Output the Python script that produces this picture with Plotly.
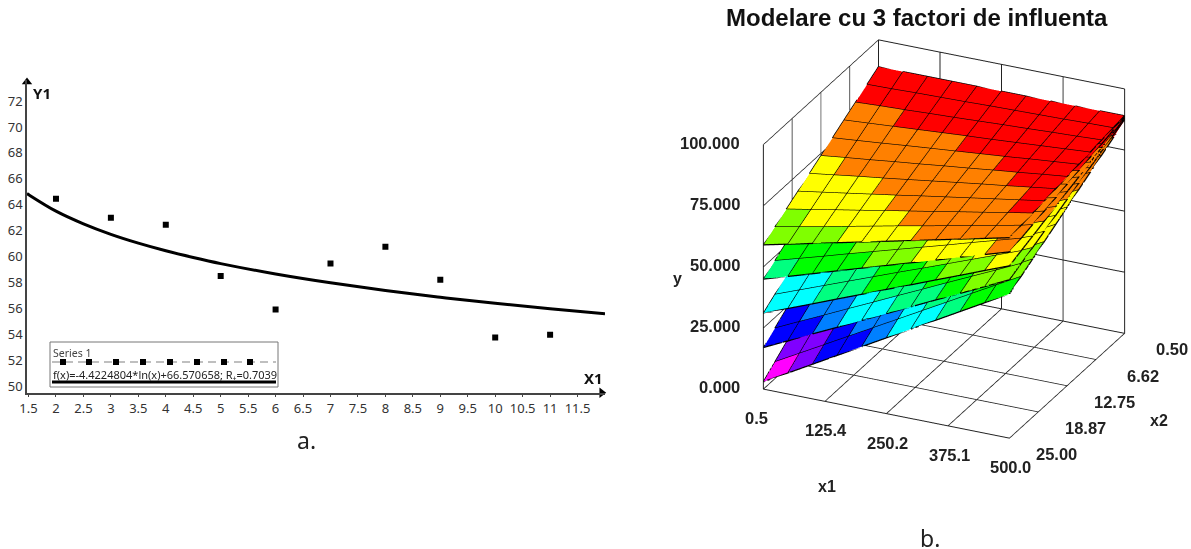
import plotly.graph_objects as go

# ---------- panel a data ----------
pts_x = [2, 3, 4, 5, 6, 7, 8, 9, 10, 11]
pts_y = [64.45, 63.0, 62.45, 58.5, 55.9, 59.45, 60.75, 58.2, 53.75, 53.95]
fit_x = [1.472, 1.5, 2, 2.5, 3, 3.5, 4, 4.5, 5, 6, 7, 8, 9, 10, 11, 12]
fit_y = [64.86, 64.78, 63.50, 62.52, 61.71, 61.03, 60.44, 59.92, 59.45, 58.65, 57.97, 57.37, 56.85, 56.39, 55.97, 55.58]
a_xticks = [1.5, 2, 2.5, 3, 3.5, 4, 4.5, 5, 5.5, 6, 6.5, 7, 7.5, 8, 8.5, 9, 9.5, 10, 10.5, 11, 11.5]
a_xlabels = ["1.5", "2", "2.5", "3", "3.5", "4", "4.5", "5", "5.5", "6", "6.5", "7", "7.5", "8", "8.5", "9", "9.5", "10", "10.5", "11", "11.5"]
a_yticks = [50, 52, 54, 56, 58, 60, 62, 64, 66, 68, 70, 72]
legend_title = "Series 1"
legend_fit = "f(x)=-4.4224804*ln(x)+66.570658; R₊=0.7039"

# ---------- panel b data ----------
x1_ticks = [0.5, 125.4, 250.2, 375.1, 500.0]
x1_labels = ["0.5", "125.4", "250.2", "375.1", "500.0"]
x2_ticks = [0.50, 6.62, 12.75, 18.87, 25.00]
x2_labels = ["0.50", "6.62", "12.75", "18.87", "25.00"]
y_ticks = [0, 25, 50, 75, 100]
y_labels = ["0.000", "25.000", "50.000", "75.000", "100.000"]
x1_grid = [0.5, 50.45, 100.4, 150.35, 200.3, 250.25, 300.2, 350.15, 400.1, 450.05, 500.0]
x2_grid = [25.0, 22.55, 20.1, 17.65, 15.2, 12.75, 10.3, 7.85, 5.4, 2.95, 0.5]
layer1 = [
    [3, 8.6, 14.2, 19.8, 25.4, 31, 36.6, 42.2, 47.8, 53.4, 59],
    [6.8, 12.3, 17.8, 23.3, 28.8, 34.3, 39.8, 45.3, 50.8, 56.3, 61.8],
    [10.6, 16, 21.4, 26.8, 32.2, 37.6, 43, 48.4, 53.8, 59.2, 64.6],
    [14.4, 19.7, 25, 30.3, 35.6, 40.9, 46.2, 51.5, 56.8, 62.1, 67.4],
    [18.2, 23.4, 28.6, 33.8, 39, 44.2, 49.4, 54.6, 59.8, 65, 70.2],
    [22, 27.1, 32.2, 37.3, 42.4, 47.5, 52.6, 57.7, 62.8, 67.9, 73],
    [25.8, 30.8, 35.8, 40.8, 45.8, 50.8, 55.8, 60.8, 65.8, 70.8, 75.8],
    [29.6, 34.5, 39.4, 44.3, 49.2, 54.1, 59, 63.9, 68.8, 73.7, 78.6],
    [33.4, 38.2, 43, 47.8, 52.6, 57.4, 62.2, 67, 71.8, 76.6, 81.4],
    [37.2, 41.9, 46.6, 51.3, 56, 60.7, 65.4, 70.1, 74.8, 79.5, 84.2],
    [41, 45.6, 50.2, 54.8, 59.4, 64, 68.6, 73.2, 77.8, 82.4, 87],
]
layer2 = [
    [17, 21.8, 26.6, 31.3, 36.1, 40.9, 45.7, 50.5, 55.2, 60, 64.8],
    [20.6, 25.3, 29.9, 34.6, 39.2, 43.9, 48.5, 53.2, 57.8, 62.4, 67.1],
    [24.2, 28.7, 33.2, 37.7, 42.2, 46.8, 51.3, 55.8, 60.3, 64.8, 69.3],
    [27.8, 32.2, 36.6, 40.9, 45.3, 49.7, 54.1, 58.5, 62.8, 67.2, 71.6],
    [31.4, 35.7, 39.9, 44.2, 48.4, 52.7, 56.9, 61.2, 65.4, 69.7, 73.9],
    [35, 39.1, 43.2, 47.4, 51.5, 55.6, 59.7, 63.8, 68, 72.1, 76.2],
    [38.6, 42.6, 46.6, 50.5, 54.5, 58.5, 62.5, 66.5, 70.4, 74.4, 78.4],
    [42.2, 46.1, 49.9, 53.8, 57.6, 61.5, 65.3, 69.2, 73, 76.9, 80.7],
    [45.8, 49.5, 53.2, 57, 60.7, 64.4, 68.1, 71.8, 75.6, 79.3, 83],
    [49.4, 53, 56.6, 60.1, 63.7, 67.3, 70.9, 74.5, 78, 81.6, 85.2],
    [53, 56.5, 59.9, 63.4, 66.8, 70.3, 73.7, 77.2, 80.6, 84, 87.5],
]
layer3 = [
    [31, 35, 38.9, 42.9, 46.8, 50.8, 54.7, 58.7, 62.6, 66.6, 70.5],
    [34.4, 38.2, 42, 45.8, 49.6, 53.4, 57.1, 60.9, 64.7, 68.5, 72.3],
    [37.8, 41.4, 45, 48.7, 52.3, 55.9, 59.5, 63.1, 66.8, 70.4, 74],
    [41.2, 44.7, 48.1, 51.6, 55, 58.5, 62, 65.4, 68.9, 72.3, 75.8],
    [44.6, 47.9, 51.2, 54.5, 57.8, 61.1, 64.3, 67.6, 70.9, 74.2, 77.5],
    [48, 51.1, 54.3, 57.4, 60.5, 63.7, 66.8, 69.9, 73, 76.2, 79.3],
    [51.4, 54.4, 57.3, 60.3, 63.2, 66.2, 69.2, 72.1, 75.1, 78, 81],
    [54.8, 57.6, 60.4, 63.2, 66, 68.8, 71.6, 74.4, 77.2, 80, 82.8],
    [58.2, 60.8, 63.5, 66.1, 68.7, 71.4, 74, 76.6, 79.2, 81.9, 84.5],
    [61.6, 64.1, 66.5, 69, 71.5, 74, 76.4, 78.9, 81.4, 83.8, 86.3],
    [65, 67.3, 69.6, 71.9, 74.2, 76.5, 78.8, 81.1, 83.4, 85.7, 88],
]
layer4 = [
    [45, 48.1, 51.2, 54.4, 57.5, 60.6, 63.7, 66.8, 70, 73.1, 76.2],
    [48.2, 51.1, 54, 57, 59.9, 62.8, 65.7, 68.6, 71.6, 74.5, 77.4],
    [51.4, 54.1, 56.9, 59.6, 62.3, 65.1, 67.8, 70.5, 73.2, 76, 78.7],
    [54.6, 57.1, 59.7, 62.2, 64.7, 67.3, 69.8, 72.3, 74.8, 77.4, 79.9],
    [57.8, 60.1, 62.5, 64.8, 67.1, 69.5, 71.8, 74.1, 76.4, 78.8, 81.1],
    [61, 63.1, 65.3, 67.4, 69.6, 71.7, 73.8, 76, 78.1, 80.3, 82.4],
    [64.2, 66.1, 68.1, 70, 72, 73.9, 75.8, 77.8, 79.7, 81.7, 83.6],
    [67.4, 69.1, 70.9, 72.6, 74.4, 76.1, 77.8, 79.6, 81.3, 83.1, 84.8],
    [70.6, 72.1, 73.7, 75.2, 76.8, 78.3, 79.8, 81.4, 82.9, 84.5, 86],
    [73.8, 75.2, 76.5, 77.9, 79.2, 80.6, 81.9, 83.2, 84.6, 85.9, 87.3],
    [77, 78.2, 79.3, 80.5, 81.6, 82.8, 83.9, 85, 86.2, 87.3, 88.5],
]
layer5 = [
    [59, 61.3, 63.6, 65.9, 68.2, 70.5, 72.8, 75.1, 77.4, 79.7, 82],
    [62, 64.1, 66.1, 68.2, 70.3, 72.4, 74.4, 76.5, 78.6, 80.6, 82.7],
    [65, 66.8, 68.7, 70.5, 72.4, 74.2, 76, 77.9, 79.7, 81.6, 83.4],
    [68, 69.6, 71.2, 72.8, 74.4, 76.1, 77.7, 79.3, 80.9, 82.5, 84.1],
    [71, 72.4, 73.8, 75.1, 76.5, 77.9, 79.3, 80.7, 82, 83.4, 84.8],
    [74, 75.2, 76.3, 77.5, 78.6, 79.8, 80.9, 82.1, 83.2, 84.4, 85.5],
    [77, 77.9, 78.8, 79.8, 80.7, 81.6, 82.5, 83.4, 84.4, 85.3, 86.2],
    [80, 80.7, 81.4, 82.1, 82.8, 83.5, 84.1, 84.8, 85.5, 86.2, 86.9],
    [83, 83.5, 83.9, 84.4, 84.8, 85.3, 85.8, 86.2, 86.7, 87.1, 87.6],
    [86, 86.2, 86.5, 86.7, 86.9, 87.2, 87.4, 87.6, 87.8, 88.1, 88.3],
    [89] * 11,
]
layers = [layer1, layer2, layer3, layer4, layer5]
bin_edges = [10, 18, 26, 34, 42, 50, 58, 66, 74, 82.5]
bin_colors = ["#ff00ff", "#8000ff", "#0000ff", "#0080ff", "#00ffff", "#00ff80",
              "#00ff00", "#80ff00", "#ffff00", "#ff8000", "#ff0000"]

W, H = 1191, 549
fig = go.Figure()

# ---------- panel a ----------
ax_l, ax_r, ax_t, ax_b = 27, 605, 80, 392.7
xr = [1.472, 12.0]
yr = [49.48, 73.63]
fig.add_trace(go.Scatter(x=fit_x, y=fit_y, mode="lines", line=dict(color="#000", width=3, shape="spline"),
                         hoverinfo="skip", showlegend=False, cliponaxis=False))
fig.add_trace(go.Scatter(x=pts_x, y=pts_y, mode="markers", marker=dict(symbol="square", size=6, color="#000"),
                         hoverinfo="skip", showlegend=False))
fig.add_trace(go.Scatter(x=[xr[0]], y=[yr[1] - 0.15], mode="markers", marker=dict(symbol="triangle-up", size=9, color="#000"),
                         hoverinfo="skip", showlegend=False, cliponaxis=False))
fig.add_trace(go.Scatter(x=[xr[1] - 0.06], y=[yr[0]], mode="markers", marker=dict(symbol="triangle-right", size=9, color="#000"),
                         hoverinfo="skip", showlegend=False, cliponaxis=False))

# legend sample rows, on a hidden pixel axis
fig.add_trace(go.Scatter(x=[52, 63, 89, 116, 143, 170, 197, 224, 250, 276], y=[362] * 10, mode="lines",
                         line=dict(color="#aaa", width=1.5, dash="8px,5px"), hoverinfo="skip", showlegend=False,
                         xaxis="x2", yaxis="y2"))
fig.add_trace(go.Scatter(x=[63, 89, 116, 143, 170, 197, 224, 250], y=[362] * 8, mode="markers",
                         marker=dict(symbol="square", size=6, color="#000"), hoverinfo="skip", showlegend=False,
                         xaxis="x2", yaxis="y2"))
fig.add_trace(go.Scatter(x=[52, 276], y=[382, 382], mode="lines", line=dict(color="#000", width=3),
                         hoverinfo="skip", showlegend=False, xaxis="x2", yaxis="y2"))

# ---------- panel b ----------
def cell_color(v):
    i = 0
    while i < len(bin_edges) and v >= bin_edges[i]:
        i += 1
    return bin_colors[i]

for layer in layers:
    n = len(x2_grid)
    m = len(x1_grid)
    vx, vy, vz, ii, jj, kk, fc = [], [], [], [], [], [], []
    for r in range(n):
        for c in range(m):
            vx.append(x1_grid[c]); vy.append(x2_grid[r]); vz.append(layer[r][c])
    for r in range(n - 1):
        for c in range(m - 1):
            p = r * m + c
            q = p + 1
            s = p + m
            t = s + 1
            mean = (layer[r][c] + layer[r][c + 1] + layer[r + 1][c] + layer[r + 1][c + 1]) / 4
            col = cell_color(mean)
            ii += [p, p]; jj += [q, t]; kk += [t, s]; fc += [col, col]
    fig.add_trace(go.Mesh3d(x=vx, y=vy, z=vz, i=ii, j=jj, k=kk, facecolor=fc, flatshading=True,
                            lighting=dict(ambient=1, diffuse=0, specular=0, fresnel=0, roughness=1),
                            hoverinfo="skip", showscale=False, scene="scene"))
    lx, ly, lz = [], [], []
    for r in range(n):
        lx += x1_grid + [None]; ly += [x2_grid[r]] * m + [None]; lz += layer[r] + [None]
    for c in range(m):
        lx += [x1_grid[c]] * n + [None]; ly += x2_grid + [None]; lz += [layer[r][c] for r in range(n)] + [None]
    fig.add_trace(go.Scatter3d(x=lx, y=ly, z=lz, mode="lines", line=dict(color="#000", width=2.5),
                               hoverinfo="skip", showlegend=False, scene="scene"))

font3d = dict(family="Liberation Sans", size=16.5, color="#222", weight="bold")
axis3d = dict(showbackground=False, showgrid=True, gridcolor="#222", gridwidth=2, showline=True,
              linecolor="#222", linewidth=2, zeroline=False, ticks="", showspikes=False,
              showticklabels=False, title=dict(text=""), tickmode="array")
scene_cx, scene_cy, scene_w, scene_h = 943.5, 239, 490, 440

scene_notes = []
for v, t in zip(y_ticks, y_labels):
    scene_notes.append(dict(x=0.5, y=25, z=v, text=t, showarrow=False, font=font3d, xanchor="right", xshift=-21, yshift=2))
for v, t in zip(x1_ticks, x1_labels):
    scene_notes.append(dict(x=v, y=25, z=0, text=t, showarrow=False, font=font3d, yshift=-29,
                            xshift=-6 if v == x1_ticks[0] else 2))
for v, t in zip(x2_ticks, x2_labels):
    scene_notes.append(dict(x=500, y=v, z=0, text=t, showarrow=False, font=font3d, xshift=48, yshift=-16))

fig.update_layout(
    width=W, height=H, margin=dict(l=0, r=0, t=0, b=0, autoexpand=False), paper_bgcolor="#fff", plot_bgcolor="rgba(0,0,0,0)",
    xaxis=dict(domain=[ax_l / W, ax_r / W], range=xr, tickmode="array", tickvals=a_xticks, ticktext=a_xlabels,
               ticks="outside", ticklen=3, tickcolor="#444", showgrid=False, zeroline=False, showline=True,
               linecolor="#444", linewidth=1.5, tickfont=dict(family="Noto Sans", size=13, color="#333"), anchor="y"),
    yaxis=dict(domain=[1 - ax_b / H, 1 - ax_t / H], range=yr, tickmode="array", tickvals=a_yticks,
               ticks="", showgrid=False, zeroline=False, showline=True, linecolor="#444", linewidth=1.5,
               tickfont=dict(family="Noto Sans", size=13, color="#333"), anchor="x"),
    xaxis2=dict(domain=[0, 1], range=[0, W], visible=False, anchor="y2"),
    yaxis2=dict(domain=[0, 1], range=[H, 0], visible=False, anchor="x2"),
    scene=dict(
        domain=dict(x=[(scene_cx - scene_w / 2) / W, (scene_cx + scene_w / 2) / W],
                    y=[1 - (scene_cy + scene_h / 2) / H, 1 - (scene_cy - scene_h / 2) / H]),
        aspectmode="manual", aspectratio=dict(x=1.235, y=1.235, z=1.228),
        camera=dict(projection=dict(type="orthographic"), up=dict(x=0, y=0, z=1), center=dict(x=0, y=0, z=0),
                    eye=dict(x=0.3834 * 1.8, y=-0.8196 * 1.8, z=0.4258 * 1.8)),
        xaxis=dict(axis3d, range=[0.5, 500], tickvals=x1_ticks),
        yaxis=dict(axis3d, range=[25, 0.5], tickvals=x2_ticks),
        zaxis=dict(axis3d, range=[0, 100], tickvals=y_ticks),
        annotations=scene_notes,
    ),
    shapes=[dict(type="rect", xref="paper", yref="paper", x0=50 / W, x1=278 / W, y0=1 - 387 / H, y1=1 - 342 / H,
                 line=dict(color="#777", width=1), fillcolor="#fff", layer="below")],
)

def note(x, y, text, size, family, color="#000", bold=False, anchor="center"):
    fig.add_annotation(xref="paper", yref="paper", x=x / W, y=1 - y / H, text=f"<b>{text}</b>" if bold else text,
                       showarrow=False, xanchor=anchor, yanchor="middle",
                       font=dict(family=family, size=size, color=color))

note(42, 93, "Y1", 15, "Noto Sans", "#111", True)
note(593.5, 378, "X1", 15, "Noto Sans", "#111", True)
note(51, 353, legend_title, 10.5, "Noto Sans", "#444", anchor="left")
note(51, 374, legend_fit, 11, "Noto Sans", "#222", anchor="left")
note(306, 440, "a.", 23, "Noto Sans", "#222")
note(930, 538, "b.", 23, "Noto Sans", "#222")
note(917, 17, "Modelare cu 3 factori de influenta", 24, "Liberation Sans", "#111", True)
note(677, 278, "y", 16, "Liberation Sans", "#222", True)
note(827, 486, "x1", 16, "Liberation Sans", "#222", True)
note(1159, 420, "x2", 16, "Liberation Sans", "#222", True)

fig.write_html("out.html", config=dict(displayModeBar=False), post_script="document.body.style.margin='0';")
